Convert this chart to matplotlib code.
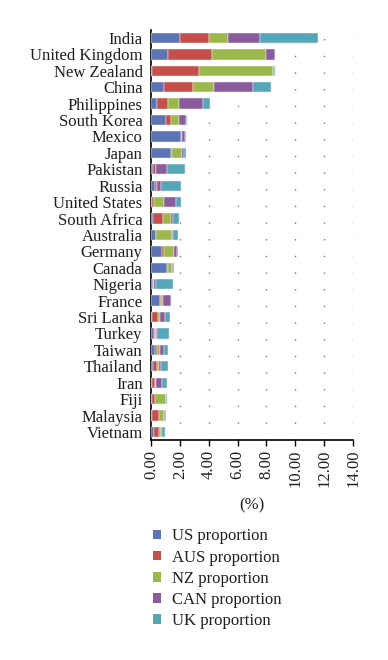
import matplotlib
matplotlib.use("Agg")
import matplotlib.pyplot as plt
from matplotlib.patches import Patch
import numpy as np

# countries, top to bottom
countries = ["India", "United Kingdom", "New Zealand", "China", "Philippines",
             "South Korea", "Mexico", "Japan", "Pakistan", "Russia",
             "United States", "South Africa", "Australia", "Germany", "Canada",
             "Nigeria", "France", "Sri Lanka", "Turkey", "Taiwan", "Thailand",
             "Iran", "Fiji", "Malaysia", "Vietnam"]

us_prop = [2.02, 1.16, 0.05, 0.93, 0.39, 1.05, 2.09, 1.37, 0.16, 0.30,
           0.05, 0.12, 0.33, 0.79, 1.11, 0.12, 0.60, 0.05, 0.21, 0.30, 0.16,
           0.07, 0.05, 0.07, 0.21]
aus_prop = [1.98, 3.09, 3.29, 1.97, 0.77, 0.32, 0.03, 0.09, 0.17, 0.09,
            0.18, 0.72, 0.02, 0.14, 0.10, 0.05, 0.07, 0.44, 0.09, 0.14, 0.28,
            0.23, 0.23, 0.49, 0.37]
nz_prop = [1.32, 3.72, 5.14, 1.44, 0.77, 0.56, 0.02, 0.70, 0.02, 0.02,
           0.68, 0.58, 1.11, 0.65, 0.25, 0.02, 0.17, 0.11, 0.02, 0.21, 0.12,
           0.02, 0.79, 0.35, 0.09]
can_prop = [2.23, 0.65, 0.03, 2.70, 1.69, 0.49, 0.25, 0.14, 0.79, 0.29,
            0.83, 0.14, 0.05, 0.23, 0.05, 0.14, 0.53, 0.35, 0.12, 0.23, 0.16,
            0.45, 0.00, 0.07, 0.12]
uk_prop = [3.99, 0.00, 0.10, 1.30, 0.49, 0.11, 0.02, 0.12, 1.23, 1.41,
           0.33, 0.39, 0.33, 0.07, 0.07, 1.20, 0.02, 0.37, 0.79, 0.33, 0.46,
           0.34, 0.02, 0.09, 0.19]

series = [("US proportion", us_prop, "#5b74b5"),
          ("AUS proportion", aus_prop, "#c5504b"),
          ("NZ proportion", nz_prop, "#9bb94b"),
          ("CAN proportion", can_prop, "#8a5c9e"),
          ("UK proportion", uk_prop, "#56a6ba")]

plt.rcParams["font.family"] = ["Liberation Serif", "DejaVu Serif"]
plt.rcParams["font.size"] = 12

fig = plt.figure(figsize=(3.88, 6.6), dpi=100)
ax = fig.add_axes([0.389, 0.333, 0.521, 0.622])

y = np.arange(len(countries))
left = np.zeros(len(countries))
for name, vals, col in series:
    vals = np.array(vals)
    ax.barh(y, vals, left=left, height=0.63, color=col, edgecolor="white",
            linewidth=0.3, zorder=3)
    left += vals

ax.set_ylim(len(countries) - 0.5, -0.5)
ax.set_yticks(y)
ax.set_yticklabels(countries, color="#1e1e1e")
ax.tick_params(axis="y", length=0, pad=6)

ax.set_xlim(0, 14)
ax.set_xticks(np.arange(0, 15, 2))
ax.set_xticklabels(["%.2f" % v for v in np.arange(0, 15, 2)], rotation=90,
                   color="#1e1e1e")
ax.tick_params(axis="x", direction="out", length=4, width=1, pad=3)

# dotted vertical guides
for xv in np.arange(2, 15, 2):
    ax.axvline(xv, color="#777777", linewidth=1, linestyle=(0, (1, 11)),
               zorder=1)

for s in ["top", "right"]:
    ax.spines[s].set_visible(False)
ax.spines["left"].set_linewidth(1.2)
ax.spines["bottom"].set_linewidth(1.2)

ax.set_xlabel("(%)", color="#1e1e1e", labelpad=7)

handles = [Patch(facecolor=c, edgecolor="none") for _, _, c in series]
labels = [n for n, _, _ in series]
fig.legend(handles, labels, loc="upper left", bbox_to_anchor=(0.372, 0.212),
           frameon=False, handlelength=0.5, handleheight=0.5,
           handletextpad=0.65, labelspacing=0.31, borderpad=0,
           labelcolor="#1e1e1e")

fig.savefig("out.png", dpi=100)
